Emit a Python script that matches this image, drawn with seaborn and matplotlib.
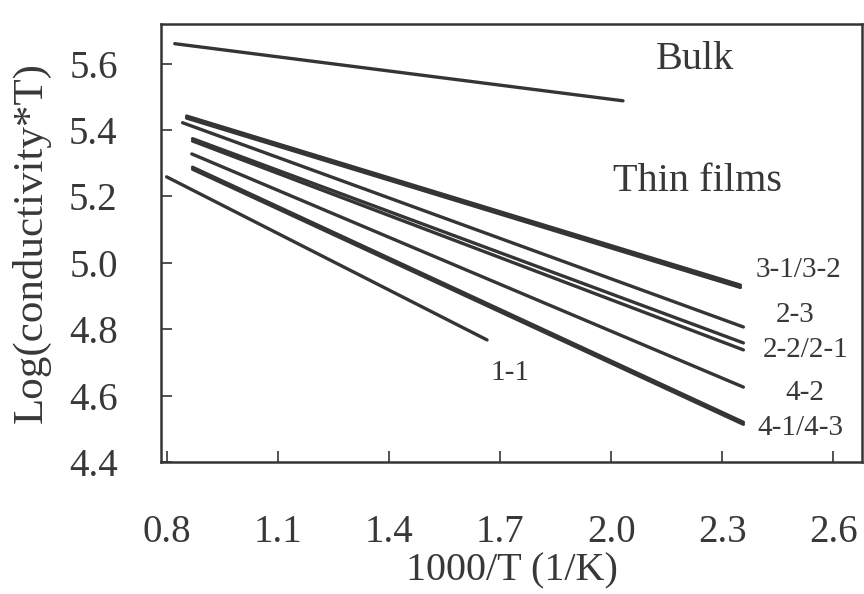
import pandas as pd
import matplotlib
matplotlib.use("Agg")
import matplotlib.pyplot as plt
import seaborn as sns

# Bulk sample
bulk_x = [0.822, 2.032]
bulk_y = [5.660, 5.488]

# Thin film samples (start / end of each fitted line)
film_names = ["3-1", "3-2", "2-3", "2-2", "2-1", "4-2", "4-1", "4-3", "1-1"]
film_x_start = [0.854, 0.854, 0.843, 0.870, 0.870, 0.868, 0.870, 0.870, 0.800]
film_x_end = [2.349, 2.349, 2.357, 2.357, 2.357, 2.357, 2.357, 2.357, 1.665]
film_y_start = [5.442, 5.436, 5.422, 5.374, 5.367, 5.328, 5.288, 5.282, 5.259]
film_y_end = [4.933, 4.926, 4.807, 4.759, 4.738, 4.626, 4.520, 4.514, 4.768]

# labels next to the line ends
label_text = ["3-1/3-2", "2-3", "2-2/2-1", "4-2", "4-1/4-3", "1-1"]
label_x = [2.505, 2.497, 2.524, 2.524, 2.511, 1.727]
label_y = [4.979, 4.843, 4.738, 4.608, 4.502, 4.668]

sns.set_style("ticks")
plt.rcParams['font.family'] = ['Liberation Serif', 'DejaVu Serif']

line_color = '#353535'
text_color = '#383838'

fig = plt.figure(figsize=(8.64, 5.94), dpi=100)
ax = fig.add_axes([0.186, 0.222, 0.812, 0.738])

df_bulk = pd.DataFrame({'x': bulk_x, 'y': bulk_y})
sns.lineplot(data=df_bulk, x='x', y='y', ax=ax, color=line_color, lw=2.4)

rows = []
for name, x0, x1, y0, y1 in zip(film_names, film_x_start, film_x_end, film_y_start, film_y_end):
    rows.append({'sample': name, 'x': x0, 'y': y0})
    rows.append({'sample': name, 'x': x1, 'y': y1})
df_films = pd.DataFrame(rows)
sns.lineplot(data=df_films, x='x', y='y', units='sample', estimator=None,
             ax=ax, color=line_color, lw=2.4, sort=False)

for t, x, y in zip(label_text, label_x, label_y):
    ax.text(x, y, t, ha='center', va='center', fontsize=21, color=text_color)

ax.text(2.227, 5.612, 'Bulk', ha='center', va='center', fontsize=29, color=text_color)
ax.text(2.232, 5.244, 'Thin films', ha='center', va='center', fontsize=29, color=text_color)

ax.set_xlim(0.784, 2.678)
ax.set_ylim(4.4, 5.72)
ax.set_xticks([0.8, 1.1, 1.4, 1.7, 2.0, 2.3, 2.6])
ax.set_yticks([4.4, 4.6, 4.8, 5.0, 5.2, 5.4, 5.6])
ax.set_xticklabels(['0.8', '1.1', '1.4', '1.7', '2.0', '2.3', '2.6'])
ax.set_yticklabels(['4.4', '4.6', '4.8', '5.0', '5.2', '5.4', '5.6'])
ax.tick_params(axis='both', direction='in', length=8, width=1.2, colors=line_color,
               labelsize=28, labelcolor=text_color)
ax.tick_params(axis='x', pad=37)
ax.tick_params(axis='y', pad=31)

for s in ax.spines.values():
    s.set_linewidth(1.8)
    s.set_color(line_color)

ax.set_xlabel('1000/T (1/K)', fontsize=29, color=text_color, labelpad=1)
ax.set_ylabel('Log(conductivity*T)', fontsize=31, color=text_color, labelpad=13)

fig.savefig('out.png', dpi=100)
